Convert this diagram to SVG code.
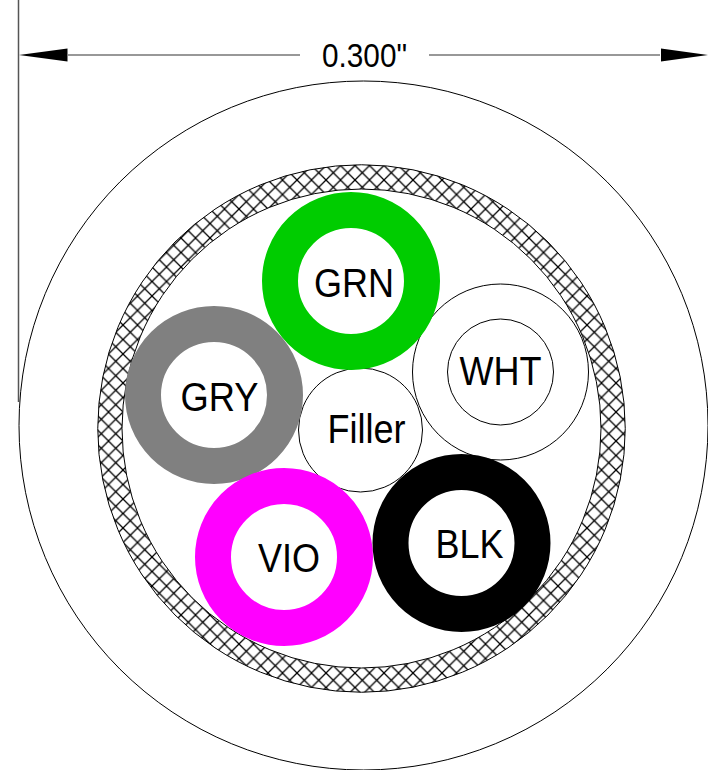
<svg xmlns="http://www.w3.org/2000/svg" width="708" height="770" viewBox="0 0 708 770">
<style>
.l{fill:none;stroke:#000;stroke-width:1}
.w{fill:#fff;stroke:#000;stroke-width:1}
.t{font-family:"Liberation Sans",Arial,sans-serif;font-size:40px;fill:#000;text-anchor:middle}
.d{font-size:34px}
</style>
<defs>
<pattern id="hatch" width="14.5" height="14.5" patternUnits="userSpaceOnUse" x="7" y="6">
<rect width="14.5" height="14.5" fill="#fff"/>
<path d="M0 0L14.500 14.500M14.500 0L0 14.500" stroke="#000" stroke-width="1.300" fill="none"/>
</pattern>
</defs>
<rect width="708" height="770" fill="#fff"/>
<g id="connectors">
<path d="M18.500 0V402" stroke="#555" stroke-width="1.500" fill="none"/>
<path d="M68 55H300M429 55H660" stroke="#333" stroke-width="1.200" fill="none"/>
<polygon points="19,55 67.500,48.500 67.500,61.500" fill="#000"/>
<polygon points="708,55 661,48.500 661,61.500" fill="#000"/>
<text class="t d" x="364.500" y="67" textLength="85" lengthAdjust="spacingAndGlyphs">0.300"</text>
</g>
<g id="jacket"><circle class="w" cx="363.500" cy="425.500" r="344.500"/></g>
<g id="shield">
<path fill="url(#hatch)" fill-rule="evenodd" d="M97.750 428.500a263.750 263.750 0 1 0 527.500 0a263.750 263.750 0 1 0 -527.500 0ZM122 428.500a239.500 239.500 0 1 0 479 0a239.500 239.500 0 1 0 -479 0Z"/>
<circle class="l" cx="361.500" cy="428.500" r="263.750"/>
<circle class="l" cx="361.500" cy="428.500" r="239.500"/>
</g>
<g id="filler"><circle class="w" cx="360.500" cy="430" r="62"/><text class="t" x="366.500" y="443" textLength="78" lengthAdjust="spacingAndGlyphs">Filler</text></g>
<g id="wht"><circle class="w" cx="500.500" cy="372" r="88"/><circle class="w" cx="500.500" cy="372" r="53"/><text class="t" x="500.500" y="385" textLength="82" lengthAdjust="spacingAndGlyphs">WHT</text></g>
<g id="grn"><circle cx="351" cy="281" r="71" fill="#fff" stroke="#00cc00" stroke-width="36"/><text class="t" x="354" y="297" textLength="80" lengthAdjust="spacingAndGlyphs">GRN</text></g>
<g id="gry"><circle cx="214" cy="395" r="71" fill="#fff" stroke="#808080" stroke-width="36"/><text class="t" x="219.500" y="411" textLength="78" lengthAdjust="spacingAndGlyphs">GRY</text></g>
<g id="vio"><circle cx="284" cy="557" r="71" fill="#fff" stroke="#ff00ff" stroke-width="36"/><text class="t" x="289" y="572" textLength="62" lengthAdjust="spacingAndGlyphs">VIO</text></g>
<g id="blk"><circle cx="461.500" cy="543" r="71" fill="#fff" stroke="#000" stroke-width="36"/><text class="t" x="469.500" y="558" textLength="68" lengthAdjust="spacingAndGlyphs">BLK</text></g>
</svg>
